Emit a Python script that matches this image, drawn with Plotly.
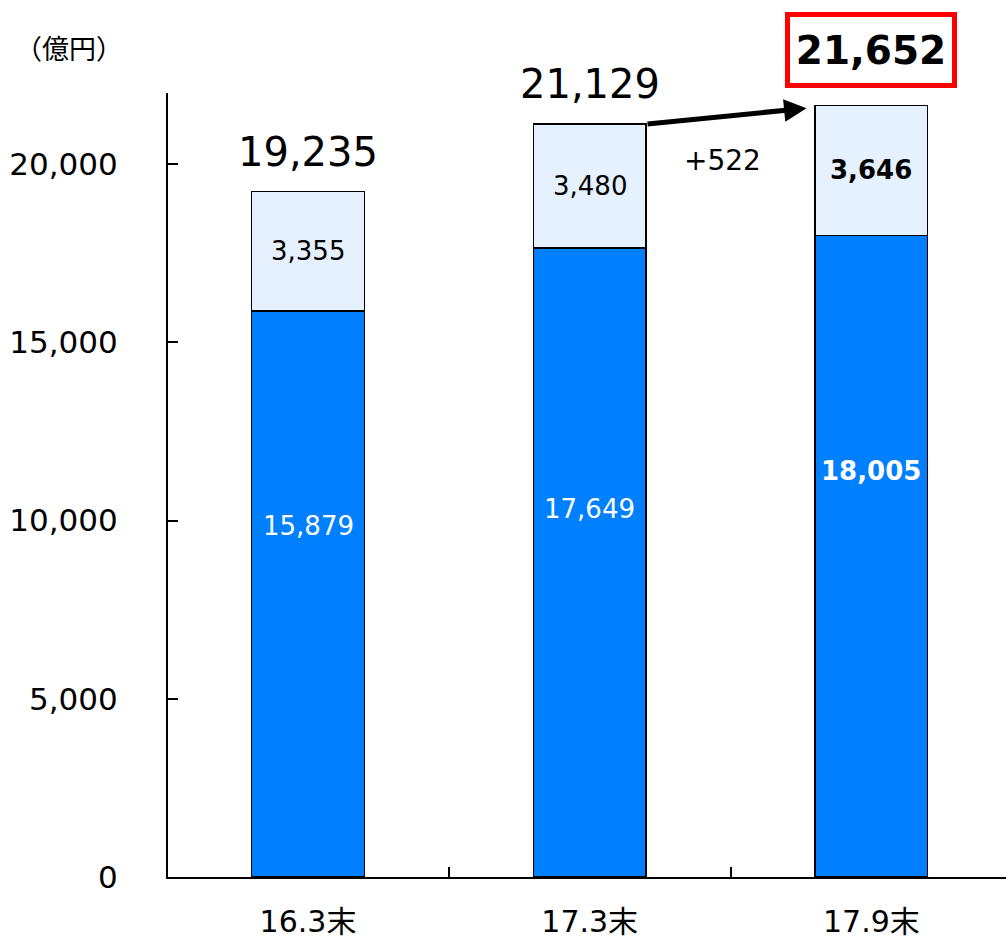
import plotly.graph_objects as go

categories = ["16.3末", "17.3末", "17.9末"]
lower_values = [15879, 17649, 18005]
upper_values = [3355, 3480, 3646]
totals = [19235, 21129, 21652]
lower_labels = ["15,879", "17,649", "18,005"]
upper_labels = ["3,355", "3,480", "3,646"]
total_labels = ["19,235", "21,129", "21,652"]
change_label = "+522"
unit_label = "（億円）"

FONT = "DejaVu Sans, Noto Sans CJK JP, sans-serif"
BLUE = "#0080FF"
LIGHT = "#E6F1FF"

# label heights (fraction of lower bar) and bold flags: style, not data
lower_label_frac = [0.62, 0.585, 0.633]
bold_flags = [False, False, True]

fig = go.Figure()
fig.add_trace(go.Bar(x=categories, y=lower_values, width=0.4,
                     marker=dict(color=BLUE, line=dict(color="black", width=1.5)),
                     hoverinfo="skip"))
fig.add_trace(go.Bar(x=categories, y=upper_values, width=0.4,
                     marker=dict(color=LIGHT, line=dict(color="black", width=1.5)),
                     hoverinfo="skip"))

annotations = []
for i, c in enumerate(categories):
    b = bold_flags[i]
    annotations.append(dict(x=c, y=lower_values[i] * lower_label_frac[i],
                            text=(f"<b>{lower_labels[i]}</b>" if b else lower_labels[i]),
                            showarrow=False,
                            font=dict(family=FONT, size=26, color="white")))
    annotations.append(dict(x=c, y=lower_values[i] + upper_values[i] / 2,
                            text=(f"<b>{upper_labels[i]}</b>" if b else upper_labels[i]),
                            showarrow=False,
                            font=dict(family=FONT, size=26, color="black")))
    if i < 2:
        annotations.append(dict(x=c, y=totals[i], yshift=40, text=total_labels[i],
                                showarrow=False,
                                font=dict(family=FONT, size=40, color="black")))
    else:
        annotations.append(dict(x=c, y=totals[i], yshift=55,
                                text=f"<b>{total_labels[i]}</b>",
                                showarrow=False, bordercolor="#FF0000", borderwidth=5,
                                borderpad=4, width=154, height=58,
                                font=dict(family=FONT, size=39, color="black")))

# change arrow
annotations.append(dict(x=1.77, y=totals[2] - 80, ax=1.2, ay=totals[1],
                        xref="x", yref="y", axref="x", ayref="y",
                        showarrow=True, arrowhead=2, arrowsize=0.9, arrowwidth=5,
                        arrowcolor="black", text=""))
annotations.append(dict(x=1.47, y=20120, text=change_label, showarrow=False,
                        font=dict(family=FONT, size=28, color="black")))
annotations.append(dict(x=-0.118, y=1.055, xref="paper", yref="paper",
                        xanchor="center", yanchor="middle",
                        text=unit_label, showarrow=False,
                        font=dict(family=FONT, size=27, color="black")))

fig.update_layout(
    barmode="stack",
    width=1006, height=941,
    margin=dict(l=168, r=0, t=93, b=64),
    paper_bgcolor="white", plot_bgcolor="white",
    showlegend=False,
    annotations=annotations,
    font=dict(family=FONT, color="black"),
)
fig.update_xaxes(type="category", range=[-0.497, 2.478], showline=True, linecolor="black",
                 linewidth=2, ticks="inside", tickson="boundaries", ticklen=10,
                 tickcolor="black", tickwidth=1.5, showgrid=False, automargin=False,
                 tickfont=dict(family=FONT, size=30, color="black"),
                 ticklabelstandoff=17)
fig.update_yaxes(range=[0, 22000], tickvals=[0, 5000, 10000, 15000, 20000],
                 ticktext=["0", "5,000", "10,000", "15,000", "20,000"],
                 showline=True, linecolor="black", linewidth=2, ticks="inside",
                 ticklen=10, tickcolor="black", tickwidth=1.5, showgrid=False,
                 zeroline=False, automargin=False,
                 tickfont=dict(family=FONT, size=31, color="black"),
                 ticklabelstandoff=42)

fig.write_html("out.html", config={"displayModeBar": False},
               post_script="document.body.style.margin='0';document.body.style.overflow='hidden';")
